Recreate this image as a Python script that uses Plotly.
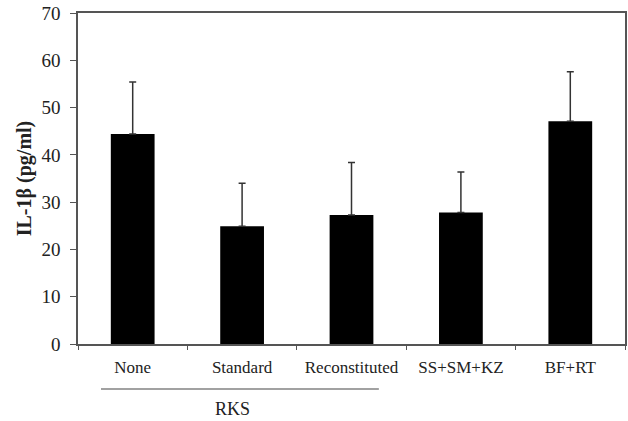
import plotly.graph_objects as go

categories = ["None", "Standard", "Reconstituted", "SS+SM+KZ", "BF+RT"]
means = [44.4, 24.9, 27.3, 27.8, 47.1]
sd_upper = [11.0, 9.1, 11.1, 8.6, 10.5]
group_label = "RKS"
y_title = "IL-1β (pg/ml)"
y_ticks = [0, 10, 20, 30, 40, 50, 60, 70]

serif = "Liberation Serif, Times New Roman, serif"
axis_col = "#555555"

fig = go.Figure(go.Bar(
    x=categories, y=means,
    marker=dict(color="black", line=dict(width=0)),
    error_y=dict(type="data", array=sd_upper, arrayminus=[0]*len(means), symmetric=False,
                 color="#333333", thickness=1.5, width=3.5),
))

fig.update_layout(
    width=628, height=421,
    margin=dict(l=78, r=3, t=13, b=77, autoexpand=False),
    paper_bgcolor="white", plot_bgcolor="white",
    bargap=0.6, showlegend=False,
    font=dict(family=serif, color="#222222"),
    xaxis=dict(showline=True, linecolor=axis_col, linewidth=1.5, mirror=True,
               ticks="outside", ticklen=4, tickcolor=axis_col, tickwidth=1.2,
               tickson="boundaries", tickfont=dict(size=17, family=serif),
               ticklabelstandoff=7,
               showgrid=False, automargin=False),
    yaxis=dict(range=[0, 70], tickvals=y_ticks, showline=True, linecolor=axis_col,
               linewidth=1.5, mirror=True, ticks="outside", ticklen=6,
               tickcolor=axis_col, tickwidth=1.2, tickfont=dict(size=19, family=serif),
               ticklabelstandoff=6,
               showgrid=False, zeroline=False, automargin=False,
               title=dict(text="<b>" + y_title + "</b>", font=dict(size=20, family=serif),
                          standoff=4)),
    shapes=[dict(type="line", xref="x", yref="paper", x0=-0.29, x1=2.25,
                 y0=-0.136, y1=-0.136, line=dict(color="#444444", width=1.2))],
    annotations=[dict(text=group_label, xref="x", yref="paper", x=0.91, y=-0.195,
                      showarrow=False, font=dict(size=18, family=serif),
                      xanchor="center", yanchor="middle")],
)

fig.write_html("out.html", config={"displayModeBar": False},
               post_script="document.body.style.margin='0';")
